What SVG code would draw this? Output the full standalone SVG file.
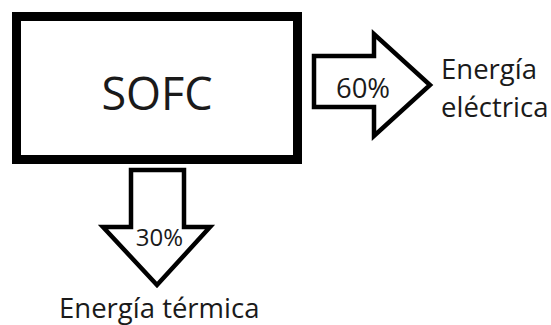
<svg xmlns="http://www.w3.org/2000/svg" width="551" height="325" viewBox="0 0 551 325">
  <style>
    .t { font-family: "Open Sans", "Liberation Sans", sans-serif; fill: #1a1a1a; }
    .arrow { fill: #ffffff; stroke: #000000; stroke-width: 4.5; stroke-linejoin: miter; }
  </style>
  <rect width="551" height="325" fill="#ffffff"/>
  <g id="sofc">
    <rect x="16.5" y="16.5" width="281" height="143" fill="#ffffff" stroke="#000000" stroke-width="9"/>
    <text class="t" x="157" y="110" font-size="45" text-anchor="middle">SOFC</text>
  </g>
  <g id="connectors">
    <g id="arrow-electric">
      <polygon class="arrow" points="314,56 374,56 374,34 430,85 374,136 374,107 314,107"/>
      <text class="t" x="363" y="98" font-size="27.5" text-anchor="middle">60%</text>
    </g>
    <g id="arrow-thermal">
      <polygon class="arrow" points="131,170 184,170 184,227 210,227 157,285 103,227 131,227"/>
      <text class="t" x="159.5" y="246" font-size="24" text-anchor="middle">30%</text>
    </g>
  </g>
  <g id="label-electric">
    <text class="t" x="441" y="79" font-size="27.5">Energía</text>
    <text class="t" x="441" y="117" font-size="27.5">eléctrica</text>
  </g>
  <g id="label-thermal">
    <text class="t" x="59" y="318" font-size="27.5">Energía térmica</text>
  </g>
</svg>
